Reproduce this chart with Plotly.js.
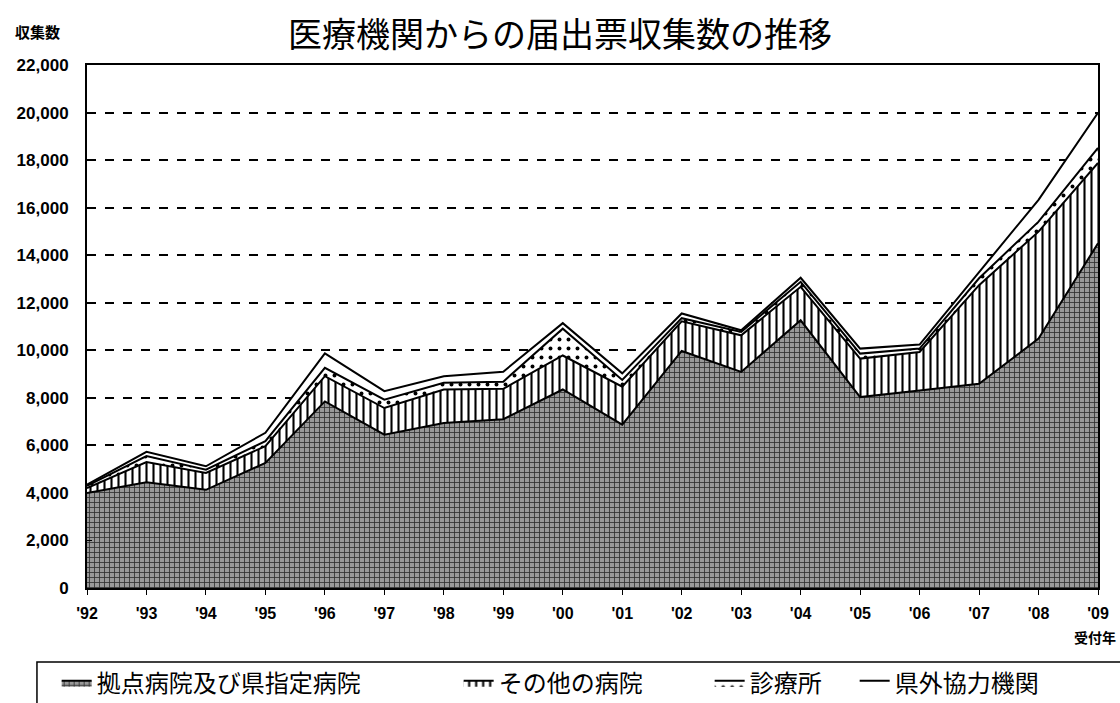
<!DOCTYPE html>
<html>
<head>
<meta charset="utf-8">
<script src="https://cdn.plot.ly/plotly-3.0.1.min.js"></script>
<style>html,body{margin:0;padding:0;background:#fff;}#chart{width:1120px;height:703px;}</style>
</head>
<body>
<div id="chart"></div>
<script>
var years = [1992,1993,1994,1995,1996,1997,1998,1999,2000,2001,2002,2003,2004,2005,2006,2007,2008,2009];
var yearLabels = ["'92","'93","'94","'95","'96","'97","'98","'99","'00","'01","'02","'03","'04","'05","'06","'07","'08","'09"];
var seriesNames = ["拠点病院及び県指定病院","その他の病院","診療所","県外協力機関"];
var baseHospitals = [4000,4450,4130,5260,7850,6450,6940,7100,8350,6870,9970,9090,11260,8030,8310,8590,10490,14500];
var otherHospitals = [200,850,710,710,1060,1120,1410,1280,1430,1600,1250,1540,1410,1620,1620,4150,4500,3380];
var clinics = [100,250,140,210,350,350,280,300,1130,280,130,140,210,210,140,290,420,630];
var outOfPref = [50,180,140,350,610,360,280,420,230,280,200,70,170,210,170,270,920,1480];
var yTicks = [0,2000,4000,6000,8000,10000,12000,14000,16000,18000,20000,22000];

var font = "Liberation Sans, Arial, Noto Sans CJK JP, sans-serif";
var cjk = "Noto Sans CJK JP, sans-serif";

function tr(name, vals, fillcolor, pattern, lw) {
  var t = {
    x: years, y: vals, name: name, type: 'scatter', mode: 'lines',
    stackgroup: 'one', line: {color: '#000', width: 2},
    fillcolor: fillcolor, hoverinfo: 'skip', legendwidth: lw
  };
  if (pattern) t.fillpattern = pattern;
  return t;
}

var data = [
  tr(seriesNames[0], baseHospitals, '#8f8f8f', {shape: '+', fgcolor: '#2e2e2e', bgcolor: '#999999', size: 5, solidity: 0.3}, 357),
  tr(seriesNames[1], otherHospitals, '#ffffff', {shape: '|', fgcolor: '#000', bgcolor: '#fff', size: 7, solidity: 0.3}, 206),
  tr(seriesNames[2], clinics, '#ffffff', {shape: '.', fgcolor: '#000', bgcolor: '#fff', size: 9, solidity: 0.15}, 100),
  tr(seriesNames[3], outOfPref, '#ffffff', null, 170)
];

var layout = {
  width: 1120, height: 703,
  margin: {l: 87, r: 22, t: 65, b: 115, autoexpand: false},
  paper_bgcolor: '#fff', plot_bgcolor: '#fff',
  showlegend: true,
  title: {text: '医療機関からの届出票収集数の推移', font: {family: cjk, size: 34, color: '#000'}, x: 0.5, xanchor: 'center', y: 0.95, yanchor: 'middle'},
  xaxis: {
    range: [1992, 2009], tickmode: 'array', tickvals: years, ticktext: yearLabels,
    showline: true, linecolor: '#000', linewidth: 2, mirror: true,
    ticks: 'outside', ticklen: 5, tickcolor: '#000', showgrid: false, zeroline: false,
    ticklabelstandoff: 5,
    tickfont: {family: font, size: 16, color: '#000', weight: 'bold'}
  },
  yaxis: {
    range: [0, 22000], tickmode: 'array', tickvals: yTicks, tickformat: ',d',
    showline: true, linecolor: '#000', linewidth: 2, mirror: true,
    ticks: 'inside', ticklen: 5, tickcolor: '#000', ticklabelstandoff: 13,
    showgrid: true, gridcolor: '#000', griddash: 'dash', gridwidth: 2, zeroline: false,
    tickfont: {family: font, size: 17, color: '#000', weight: 'bold'}
  },
  legend: {
    orientation: 'h', x: -0.03, xanchor: 'left', y: -0.182, yanchor: 'middle',
    font: {family: cjk, size: 24, color: '#000'},
    bgcolor: 'rgba(0,0,0,0)', borderwidth: 0,
    traceorder: 'normal', itemwidth: 30
  },
  shapes: [{
    type: 'rect', xref: 'paper', yref: 'paper',
    x0: -0.0495, x1: 1.03, y0: -0.26, y1: -0.1415,
    line: {color: '#000', width: 1.5}, fillcolor: 'rgba(0,0,0,0)', layer: 'below'
  }],
  annotations: [
    {text: '収集数', xref: 'paper', yref: 'paper', x: -0.073, y: 1.065, xanchor: 'left', yanchor: 'middle', showarrow: false, font: {family: cjk, size: 15, color: '#000', weight: 'bold'}},
    {text: '受付年', xref: 'paper', yref: 'paper', x: 1.02, y: -0.094, xanchor: 'right', yanchor: 'middle', showarrow: false, font: {family: cjk, size: 14, color: '#000', weight: 'bold'}}
  ]
};

Plotly.newPlot('chart', data, layout, {displayModeBar: false, staticPlot: true});
</script>
</body>
</html>
